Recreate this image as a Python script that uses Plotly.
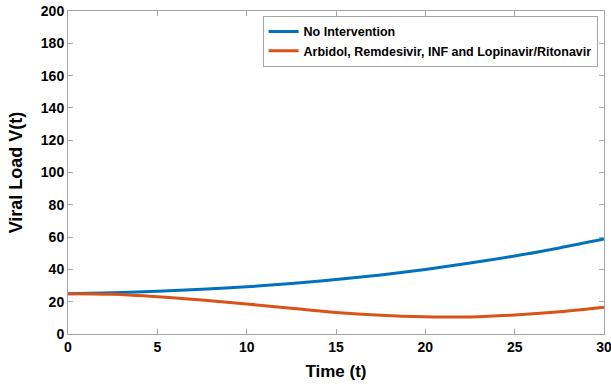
import plotly.graph_objects as go

# Time points and viral load for the two scenarios
time_t = [0, 2.5, 5, 7.5, 10, 12.5, 15, 17.5, 20, 22.5, 25, 27.5, 30]
no_intervention = [25, 25.6, 26.5, 27.7, 29.2, 31.2, 33.7, 36.6, 40.0, 43.9, 48.3, 53.3, 58.8]
combined_therapy = [25, 24.6, 23.1, 21.0, 18.6, 15.9, 13.3, 11.6, 10.7, 10.6, 11.8, 13.8, 16.6]

series_names = ["No Intervention", "Arbidol, Remdesivir, INF and Lopinavir/Ritonavir"]
series_colors = ["#0072BD", "#D95319"]

x_ticks = [0, 5, 10, 15, 20, 25, 30]
y_ticks = [0, 20, 40, 60, 80, 100, 120, 140, 160, 180, 200]

FONT = "Liberation Sans, Arial, sans-serif"
AXIS_GRAY = "#A6A6A6"

fig = go.Figure()
for name, ys, color in zip(series_names, [no_intervention, combined_therapy], series_colors):
    fig.add_trace(go.Scatter(
        x=time_t, y=ys, mode="lines", name=name,
        line=dict(color=color, width=3, shape="spline", smoothing=1.0),
    ))

axis_common = dict(
    showgrid=False, zeroline=False, showline=True, mirror="ticks",
    linecolor=AXIS_GRAY, linewidth=1, ticks="inside", tickcolor=AXIS_GRAY,
    ticklen=5, tickwidth=1, automargin=False, ticklabeloverflow="allow",
    tickfont=dict(family=FONT, size=14, color="black", weight="bold"),
)

fig.update_xaxes(
    range=[0, 30], tickvals=x_ticks, ticktext=[str(v) for v in x_ticks],
    title=dict(text="Time (t)", font=dict(family=FONT, size=17, color="black", weight="bold"), standoff=11),
    **axis_common,
)
fig.update_yaxes(
    range=[0, 200], tickvals=y_ticks, ticktext=[str(v) for v in y_ticks],
    title=dict(text="Viral Load V(t)", font=dict(family=FONT, size=18, color="black", weight="bold"), standoff=13),
    **axis_common,
)

fig.update_layout(
    width=611, height=386,
    margin=dict(l=68, r=7, t=11, b=52),
    paper_bgcolor="white", plot_bgcolor="white",
    font=dict(family=FONT, color="black"),
    legend=dict(
        x=0.988, y=0.985, xanchor="right", yanchor="top",
        bgcolor="white", bordercolor=AXIS_GRAY, borderwidth=1,
        font=dict(family=FONT, size=12.5, color="black", weight="bold"),
        itemwidth=30, tracegroupgap=0,
    ),
)

fig.write_html("out.html")
